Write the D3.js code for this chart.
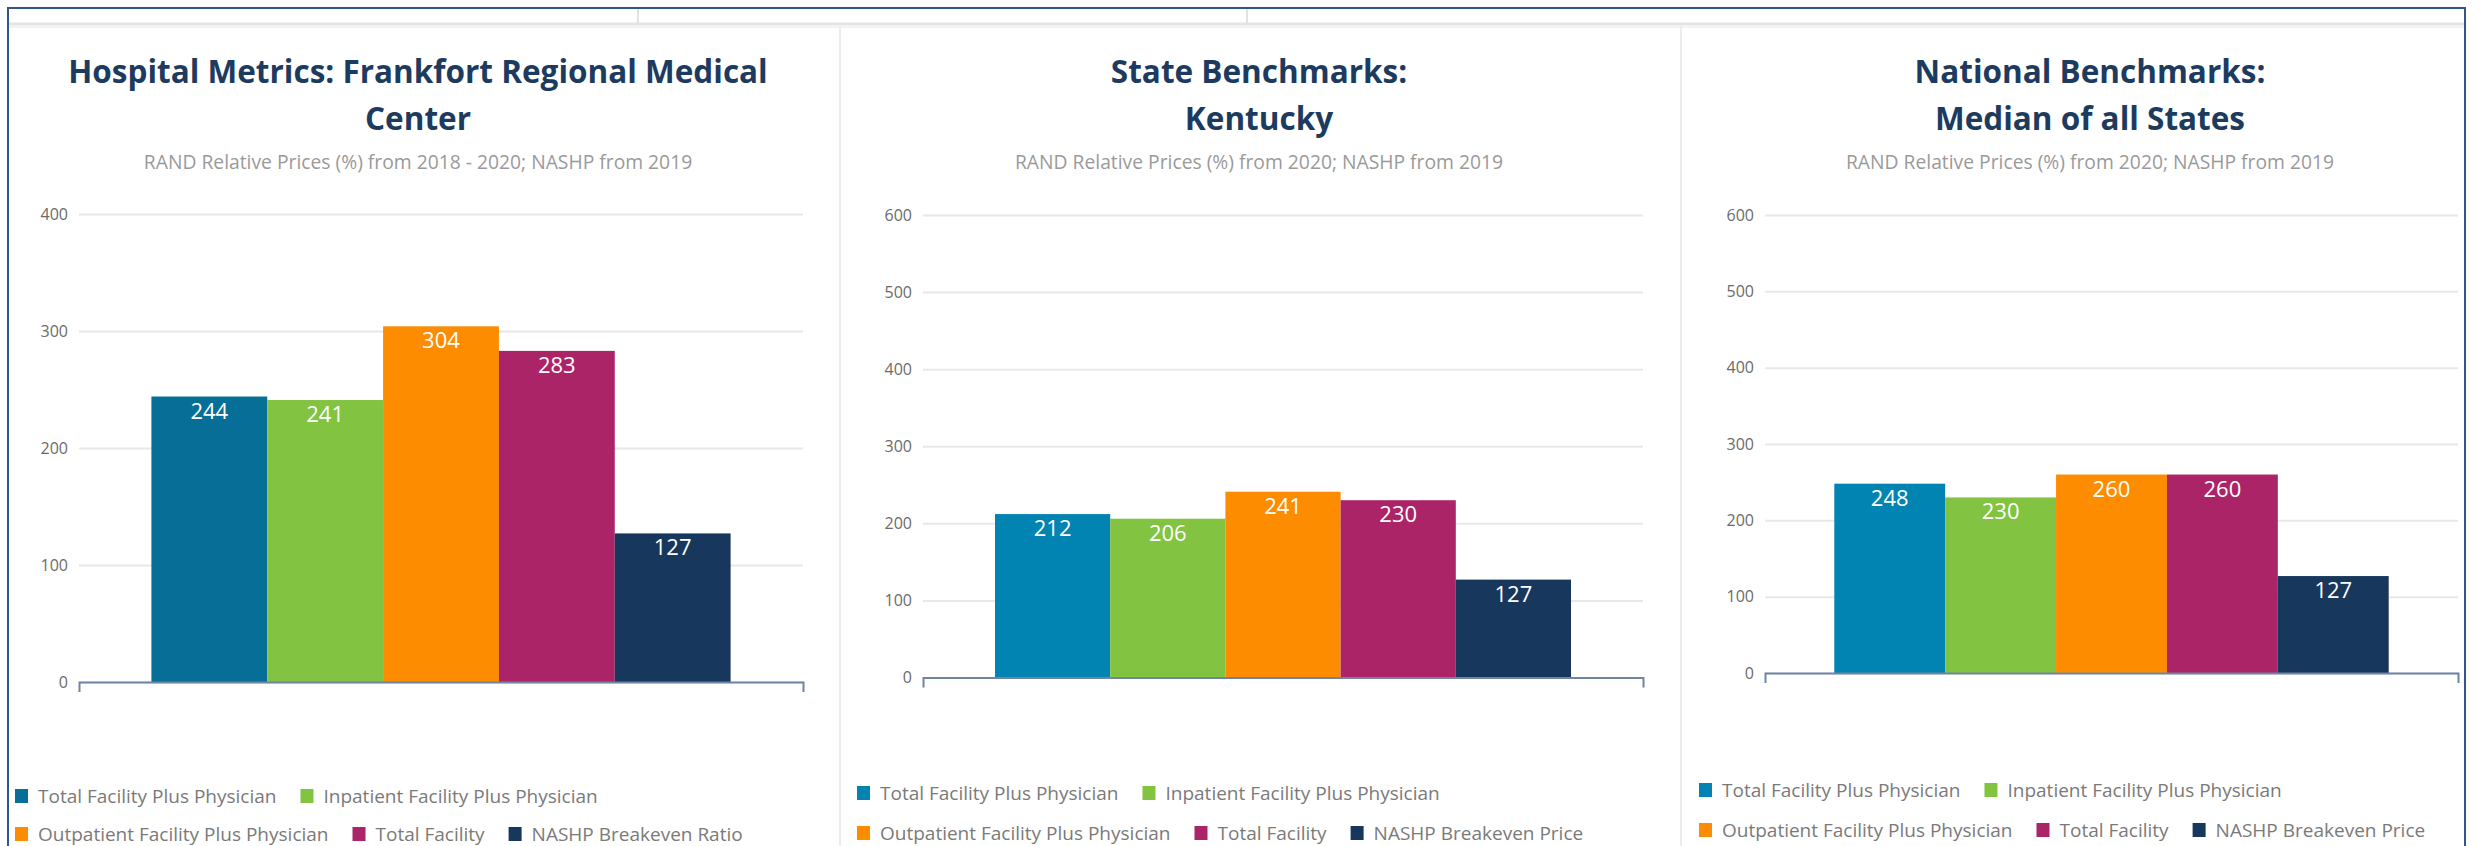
<!DOCTYPE html>
<html>
<head>
<meta charset="utf-8">
<script src="https://cdn.jsdelivr.net/npm/d3@7"></script>
<style>
  html, body { margin: 0; padding: 0; background: #ffffff; }
  svg { display: block; font-family: "Open Sans", "Noto Sans", sans-serif; }
</style>
</head>
<body>
<svg id="chart" width="2482" height="846"></svg>
<script>
// ---------------- DATA ----------------
const seriesColorsHospital = ["#076f97", "#82c341", "#fd8c00", "#ac2468", "#17375c"];
const seriesColorsBench    = ["#0284b2", "#82c341", "#fd8c00", "#ac2468", "#17375c"];

const hospitalSeries = ["Total Facility Plus Physician", "Inpatient Facility Plus Physician",
  "Outpatient Facility Plus Physician", "Total Facility", "NASHP Breakeven Ratio"];
const benchmarkSeries = ["Total Facility Plus Physician", "Inpatient Facility Plus Physician",
  "Outpatient Facility Plus Physician", "Total Facility", "NASHP Breakeven Price"];

const hospitalValues = [244, 241, 304, 283, 127];
const stateValues    = [212, 206, 241, 230, 127];
const nationalValues = [248, 230, 260, 260, 127];

const hospitalTicks  = [0, 100, 200, 300, 400];
const benchmarkTicks = [0, 100, 200, 300, 400, 500, 600];

const hospitalTitle = ["Hospital Metrics: Frankfort Regional Medical", "Center"];
const stateTitle    = ["State Benchmarks:", "Kentucky"];
const nationalTitle = ["National Benchmarks:", "Median of all States"];

const hospitalSubtitle = "RAND Relative Prices (%) from 2018 - 2020; NASHP from 2019";
const benchSubtitle    = "RAND Relative Prices (%) from 2020; NASHP from 2019";

// legend rows (indices into series)
const legendRows = [[0, 1], [2, 3, 4]];

// ---------------- LAYOUT ----------------
const panels = [
  { title: hospitalTitle, subtitle: hospitalSubtitle, names: hospitalSeries, values: hospitalValues,
    ticks: hospitalTicks, colors: seriesColorsHospital,
    cx: 418, left: 79, right: 803, top: 214, bottom: 682, legendX: 15, legendY: [803, 841] },
  { title: stateTitle, subtitle: benchSubtitle, names: benchmarkSeries, values: stateValues,
    ticks: benchmarkTicks, colors: seriesColorsBench,
    cx: 1259, left: 923, right: 1643, top: 215, bottom: 677.5, legendX: 857, legendY: [800, 840] },
  { title: nationalTitle, subtitle: benchSubtitle, names: benchmarkSeries, values: nationalValues,
    ticks: benchmarkTicks, colors: seriesColorsBench,
    cx: 2090, left: 1765, right: 2458, top: 215, bottom: 673, legendX: 1699, legendY: [797, 837] }
];

const svg = d3.select("#chart");

// frame / decorations
svg.append("rect").attr("x", 0).attr("y", 0).attr("width", 2482).attr("height", 846).attr("fill", "#fff");
// tab strip bottom line
svg.append("line").attr("x1", 9).attr("x2", 2464).attr("y1", 24).attr("y2", 24)
  .attr("stroke", "#e4e4e4").attr("stroke-width", 3);
svg.append("line").attr("x1", 9).attr("x2", 2464).attr("y1", 27).attr("y2", 27)
  .attr("stroke", "#f3f3f3").attr("stroke-width", 2);
// tab separators
[638, 1247].forEach(x => {
  svg.append("line").attr("x1", x).attr("x2", x).attr("y1", 9).attr("y2", 23)
    .attr("stroke", "#e2e2e2").attr("stroke-width", 2);
});
// panel dividers
[840, 1681].forEach(x => {
  svg.append("line").attr("x1", x).attr("x2", x).attr("y1", 26).attr("y2", 846)
    .attr("stroke", "#ececec").attr("stroke-width", 2);
});
// outer border
svg.append("path").attr("d", "M8,846 V8 H2465 V846")
  .attr("fill", "none").attr("stroke", "#34558a").attr("stroke-width", 2);

panels.forEach(p => {
  const g = svg.append("g");

  // titles
  g.append("text").attr("x", p.cx).attr("y", 83).attr("text-anchor", "middle")
    .attr("font-size", 31.5).attr("font-weight", 700).attr("fill", "#1d3b5f").text(p.title[0]);
  g.append("text").attr("x", p.cx).attr("y", 130).attr("text-anchor", "middle")
    .attr("font-size", 31.5).attr("font-weight", 700).attr("fill", "#1d3b5f").text(p.title[1]);
  g.append("text").attr("x", p.cx).attr("y", 169).attr("text-anchor", "middle")
    .attr("font-size", 19.3).attr("fill", "#9a9a9a").text(p.subtitle);

  const y = d3.scaleLinear().domain([0, d3.max(p.ticks)]).range([p.bottom, p.top]);
  const x0 = d3.scaleBand().domain(["all"]).range([p.left, p.right]).paddingInner(0.2).paddingOuter(0.1);
  const x1 = d3.scaleBand().domain(d3.range(p.values.length)).range([0, x0.bandwidth()]).padding(0);

  // y axis with gridlines
  const yAxis = d3.axisLeft(y).tickValues(p.ticks).tickSize(-(p.right - p.left)).tickPadding(11)
    .tickFormat(d3.format("d"));
  const ya = g.append("g").attr("transform", `translate(${p.left},0)`).call(yAxis);
  ya.select(".domain").remove();
  ya.selectAll(".tick line").attr("stroke", "#e8e8e8").attr("stroke-width", 2);
  ya.selectAll(".tick text").attr("font-size", 16).attr("fill", "#6b6b6b")
    .attr("font-family", "'Open Sans', sans-serif");

  // bars
  const bars = g.append("g").attr("transform", `translate(${x0("all")},0)`);
  bars.selectAll("rect").data(p.values).join("rect")
    .attr("x", (d, i) => x1(i))
    .attr("y", d => y(d))
    .attr("width", x1.bandwidth())
    .attr("height", d => y(0) - y(d))
    .attr("fill", (d, i) => p.colors[i]);

  // data labels
  bars.selectAll("text").data(p.values).join("text")
    .attr("x", (d, i) => x1(i) + x1.bandwidth() / 2)
    .attr("y", d => y(d) + 22)
    .attr("text-anchor", "middle")
    .attr("font-size", 22)
    .attr("fill", "#ffffff")
    .text(d => d);

  // x axis (baseline with outer ticks)
  const xAxis = d3.axisBottom(x0).tickValues([]).tickSizeOuter(10);
  const xa = g.append("g").attr("transform", `translate(0,${p.bottom})`).call(xAxis);
  xa.select(".domain").attr("stroke", "#6f85a3").attr("stroke-width", 2).attr("fill", "none");

  // legend
  const lg = g.append("g").attr("font-size", 19).attr("fill", "#7a7a7a");
  legendRows.forEach((row, r) => {
    let cx = p.legendX;
    const base = p.legendY[r];
    row.forEach(i => {
      lg.append("rect").attr("x", cx).attr("y", base - 14).attr("width", 13).attr("height", 14)
        .attr("fill", p.colors[i]);
      const t = lg.append("text").attr("x", cx + 23).attr("y", base).text(p.names[i]);
      const w = t.node().getComputedTextLength();
      cx += 23 + w + 24;
    });
  });
});
</script>
</body>
</html>
